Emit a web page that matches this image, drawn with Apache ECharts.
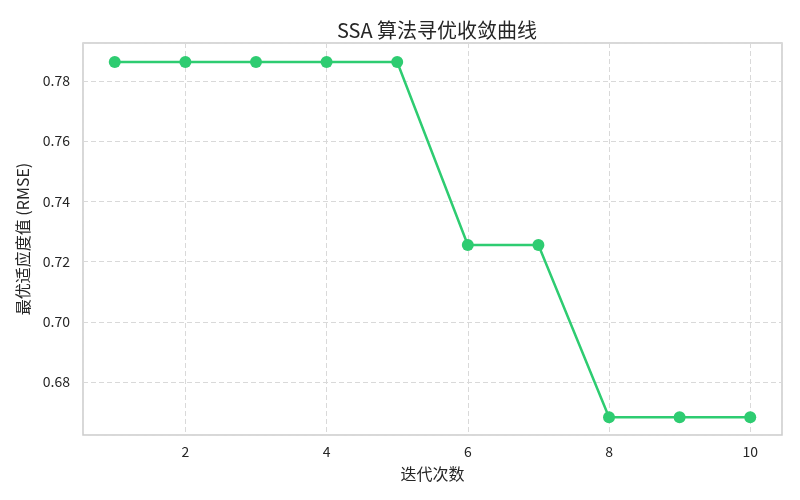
<!DOCTYPE html>
<html><head><meta charset="utf-8">
<script src="https://cdn.jsdelivr.net/npm/echarts@6/dist/echarts.min.js"></script>
<style>html,body{margin:0;padding:0;background:#fff}#c{width:800px;height:500px}</style>
</head><body><div id="c"></div>
<script>
const iterations = [1, 2, 3, 4, 5, 6, 7, 8, 9, 10];
const bestFitness = [0.7863, 0.7863, 0.7863, 0.7863, 0.7863, 0.7255, 0.7255, 0.6683, 0.6683, 0.6683];
const titleText = 'SSA 算法寻优收敛曲线';
const xName = '迭代次数';
const yName = '最优适应度值 (RMSE)';

const font = '"Noto Sans CJK SC", "DejaVu Sans", sans-serif';
const chart = echarts.init(document.getElementById('c'), null, {renderer: 'canvas'});
chart.setOption({
  backgroundColor: '#ffffff',
  animation: false,
  title: {
    text: titleText, left: 432, textAlign: 'center', top: 15,
    textStyle: {fontFamily: font, fontSize: 20, fontWeight: 'normal', color: '#262626'}
  },
  grid: {left: 83, right: 18, top: 43, bottom: 65, show: true, borderColor: '#cccccc', borderWidth: 1.5, backgroundColor: '#fff'},
  xAxis: {
    type: 'value', min: 0.55, max: 10.45, minInterval: 2, maxInterval: 2,
    name: xName, nameLocation: 'middle', nameGap: 31,
    nameTextStyle: {fontFamily: font, fontSize: 16, color: '#262626'},
    axisLine: {show: false}, axisTick: {show: false},
    axisLabel: {showMinLabel: false, showMaxLabel: false, fontFamily: font, fontSize: 14, color: '#262626', margin: 10},
    splitLine: {show: true, lineStyle: {color: '#d9d9d9', type: [5, 3], width: 1}}
  },
  yAxis: {
    type: 'value', min: 0.6624, max: 0.7926, minInterval: 0.02, maxInterval: 0.02,
    name: yName, nameLocation: 'middle', nameGap: 52,
    nameTextStyle: {fontFamily: font, fontSize: 16, color: '#262626'},
    axisLine: {show: false}, axisTick: {show: false},
    axisLabel: {showMinLabel: false, showMaxLabel: false, fontFamily: font, fontSize: 14, color: '#262626', margin: 13,
      formatter: v => v.toFixed(2)},
    splitLine: {show: true, lineStyle: {color: '#d9d9d9', type: [5, 3], width: 1}}
  },
  series: [{
    type: 'line',
    data: iterations.map((x, i) => [x, bestFitness[i]]),
    symbol: 'circle', symbolSize: 12,
    lineStyle: {color: '#2ecc71', width: 2.5},
    itemStyle: {color: '#2ecc71'},
    z: 5
  }]
});
</script></body></html>
